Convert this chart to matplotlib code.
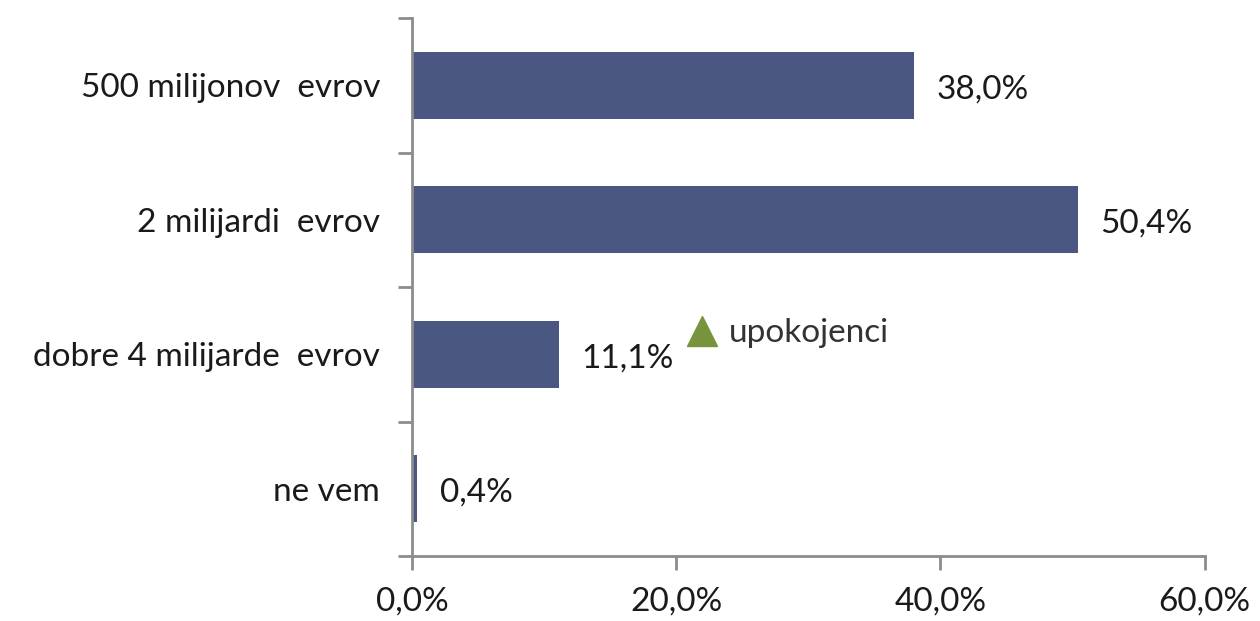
import matplotlib.pyplot as plt
import numpy as np

categories = ["500 milijonov  evrov", "2 milijardi  evrov", "dobre 4 milijarde  evrov", "ne vem"]
values = [38.0, 50.4, 11.1, 0.4]
x_ticks = [0, 20, 40, 60]
legend_label = "upokojenci"

BAR_COLOR = "#4a5783"
AXIS_COLOR = "#8c8c8c"
TEXT_COLOR = "#1a1a1a"

plt.rcParams["font.family"] = ["Lato", "DejaVu Sans"]

fig = plt.figure(figsize=(12.6, 6.21), dpi=100)
ax = fig.add_axes([0.327, 0.1047, 0.629, 0.866])

y = np.arange(len(categories))
ax.barh(y, values, height=0.5, color=BAR_COLOR, zorder=2)
for yi, v in zip(y, values):
    ax.text(v + 1.7, yi + 0.03, f"{v:.1f}".replace(".", ",") + "%", va="center", ha="left",
            fontsize=24, color=TEXT_COLOR)

# empty series shown only in the legend
ax.plot([], [], linestyle="none", marker="^", markersize=21, color="#77933c", label=legend_label)

ax.set_xlim(0, 60)
ax.set_ylim(len(categories) - 0.5, -0.5)
ax.set_xticks(x_ticks)
ax.set_xticklabels([f"{t:.1f}".replace(".", ",") + "%" for t in x_ticks], fontsize=24, color=TEXT_COLOR)
ax.set_yticks(y)
ax.set_yticklabels(categories, fontsize=24, color=TEXT_COLOR)
ax.set_yticks(np.arange(len(categories) + 1) - 0.5, minor=True)

ax.tick_params(axis="y", which="major", length=0, pad=23)
ax.tick_params(axis="y", which="minor", length=10, width=2, color=AXIS_COLOR, direction="out")
ax.tick_params(axis="x", which="major", length=10, width=2, color=AXIS_COLOR, direction="out", pad=12)

for side in ["top", "right"]:
    ax.spines[side].set_visible(False)
for side in ["left", "bottom"]:
    ax.spines[side].set_color(AXIS_COLOR)
    ax.spines[side].set_linewidth(2)

leg = ax.legend(loc="center left", bbox_to_anchor=(0.324, 0.414), frameon=False, fontsize=24,
                handletextpad=0.2, borderaxespad=0, handlelength=1.2)
for t in leg.get_texts():
    t.set_color("#333333")

fig.savefig("out.png", dpi=100)
